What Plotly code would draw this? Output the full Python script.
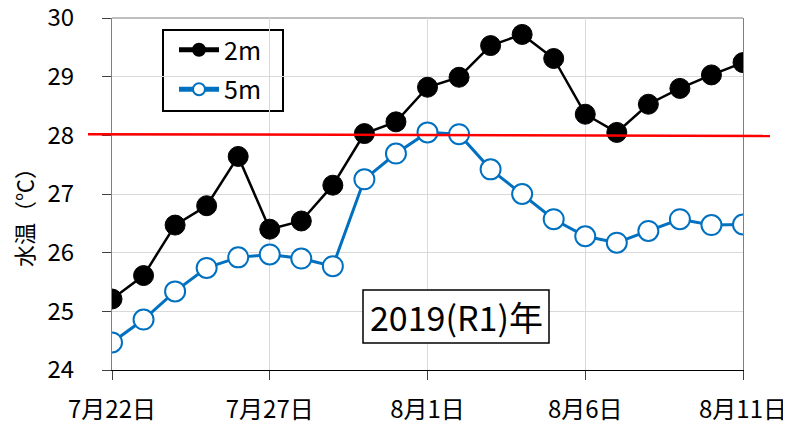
import plotly.graph_objects as go

dates = ["7月22日", "7月23日", "7月24日", "7月25日", "7月26日", "7月27日", "7月28日",
         "7月29日", "7月30日", "7月31日", "8月1日", "8月2日", "8月3日", "8月4日",
         "8月5日", "8月6日", "8月7日", "8月8日", "8月9日", "8月10日", "8月11日"]
temp_2m = [25.21, 25.61, 26.47, 26.80, 27.64, 26.40, 26.54, 27.15, 28.03, 28.23,
           28.82, 28.99, 29.53, 29.72, 29.31, 28.36, 28.05, 28.53, 28.80, 29.03, 29.24]
temp_5m = [24.47, 24.86, 25.34, 25.74, 25.92, 25.97, 25.90, 25.77, 27.25, 27.69,
           28.05, 28.02, 27.42, 27.00, 26.57, 26.28, 26.17, 26.37, 26.57, 26.47, 26.48]
tick_dates = ["7月22日", "7月27日", "8月1日", "8月6日", "8月11日"]
y_ticks = [24, 25, 26, 27, 28, 29, 30]
threshold = 28
y_title = "水温（℃）"
year_label = "2019(R1)年"

FONT = "Noto Sans CJK JP"
AX_GRAY = "#7F7F7F"

# plot area in page pixels (body has an 8px default margin)
PL, PR, PT, PB = 112, 743, 18, 370
PW, PH = PR - PL, PB - PT


def px(x):
    return (x - PL) / PW


def py(y):
    return (PB - y) / PH


fig = go.Figure()
fig.add_trace(go.Scatter(
    x=dates, y=temp_2m, name="2m", mode="lines+markers", legendgroup="a",
    line=dict(color="black", width=2.5),
    marker=dict(symbol="circle", size=20, color="black", line=dict(color="black", width=1)),
))
fig.add_trace(go.Scatter(
    x=dates, y=temp_5m, name="5m", mode="lines+markers", legendgroup="b",
    line=dict(color="#0070C0", width=3),
    marker=dict(symbol="circle", size=20, color="white", line=dict(color="#0070C0", width=2)),
))

# top border of plot area
fig.add_shape(type="line", xref="paper", yref="paper", x0=0, x1=1, y0=1, y1=1,
              line=dict(color=AX_GRAY, width=1), layer="below")
# threshold line
fig.add_shape(type="line", xref="paper", yref="y", x0=px(88), x1=px(770),
              y0=threshold + 0.02, y1=threshold - 0.01,
              line=dict(color="#FF0000", width=2.5), layer="above")
# legend box
fig.add_shape(type="rect", xref="paper", yref="paper", x0=px(163), x1=px(283),
              y0=py(111), y1=py(30), line=dict(color="black", width=2),
              fillcolor="white", layer="below")
# year label box
fig.add_shape(type="rect", xref="paper", yref="paper", x0=px(363), x1=px(549),
              y0=py(343), y1=py(290), line=dict(color="black", width=1.5),
              fillcolor="white", layer="above")
fig.add_annotation(xref="paper", yref="paper", x=px(456), y=py(316.5),
                   xanchor="center", yanchor="middle",
                   text=year_label, showarrow=False,
                   font=dict(family=FONT, size=34, color="black"))
# y-axis title
fig.add_annotation(xref="paper", yref="paper", x=px(23), y=py(212),
                   xanchor="center", yanchor="middle",
                   text=y_title, showarrow=False, textangle=-90,
                   font=dict(family=FONT, size=22, color="black"))

fig.update_layout(
    width=783, height=413,
    margin=dict(l=PL - 8, r=791 - PR, t=PT - 8, b=421 - PB),
    paper_bgcolor="white", plot_bgcolor="white",
    font=dict(family=FONT, color="black", size=20),
    showlegend=True,
    legend=dict(x=px(174), y=py(27), xanchor="left", yanchor="top",
                borderwidth=0, bgcolor="rgba(0,0,0,0)",
                font=dict(family=FONT, size=25), itemwidth=40,
                tracegroupgap=4, itemsizing="constant"),
    xaxis=dict(type="category", categoryorder="array", categoryarray=dates,
               range=[0, len(dates) - 1], tickvals=tick_dates, ticktext=tick_dates,
               showgrid=True, gridcolor="#D9D9D9", gridwidth=1,
               showline=True, linecolor="black", linewidth=1,
               ticks="outside", ticklen=9, tickcolor="#404040",
               tickfont=dict(family=FONT, size=24), zeroline=False,
               ticklabelstandoff=9, automargin=False, ticklabeloverflow="allow"),
    yaxis=dict(range=[24, 30], tickvals=y_ticks,
               showgrid=True, gridcolor="#D9D9D9", gridwidth=1,
               showline=True, linecolor=AX_GRAY, linewidth=1, mirror=True,
               ticks="outside", ticklen=9, tickcolor="#404040",
               tickfont=dict(family=FONT, size=24), zeroline=False,
               ticklabelstandoff=23, automargin=False, ticklabeloverflow="allow"),
    yaxis2=dict(overlaying="y", anchor="x", side="left", range=[24, 30],
                tickvals=y_ticks, ticks="inside", ticklen=8, tickcolor="#404040",
                showticklabels=False, showgrid=False, showline=False,
                zeroline=False, automargin=False),
    xaxis2=dict(overlaying="x", anchor="y", side="bottom", type="category",
                categoryorder="array", categoryarray=dates,
                range=[0, len(dates) - 1], tickvals=tick_dates[1:-1],
                ticks="inside", ticklen=8, tickcolor="#404040",
                showticklabels=False, showgrid=False, showline=False,
                zeroline=False, automargin=False),
)

fig.write_html("out.html")
